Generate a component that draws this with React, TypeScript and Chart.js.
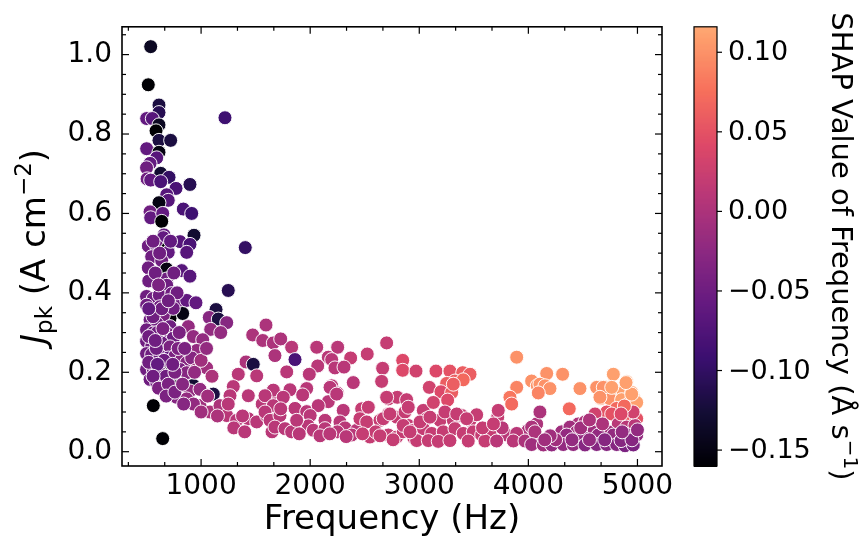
import React, { useEffect, useRef } from "react";
import { Chart, registerables } from "chart.js";
Chart.register(...registerables);

// [frequency (Hz), J_pk (A cm^-2), SHAP value of frequency]
const lowFreqPoints: number[][] = [
  [538, 1.02, -0.14], [516, 0.924, -0.16], [614, 0.873, -0.12], [614, 0.854, -0.11],
  [501, 0.839, -0.06], [553, 0.839, -0.07], [614, 0.823, -0.14], [587, 0.808, -0.16],
  [614, 0.784, -0.12], [721, 0.784, -0.12], [501, 0.763, -0.06], [614, 0.754, -0.15],
  [593, 0.74, -0.07], [532, 0.726, -0.06], [500, 0.715, -0.05], [630, 0.701, -0.13],
  [706, 0.691, -0.1], [505, 0.687, -0.05], [538, 0.684, -0.06], [630, 0.68, -0.08],
  [898, 0.673, -0.11], [770, 0.663, -0.08], [685, 0.647, -0.07], [699, 0.633, -0.07],
  [614, 0.627, -0.15], [837, 0.611, -0.08], [914, 0.6, -0.09], [532, 0.604, -0.05],
  [538, 0.589, -0.06], [648, 0.6, -0.06], [639, 0.58, -0.16], [935, 0.545, -0.13],
  [660, 0.546, -0.06], [1219, 0.841, -0.09],
  [654, 0.539, -0.06], [807, 0.529, -0.07], [898, 0.522, -0.08], [516, 0.518, -0.05],
  [593, 0.518, -0.05], [694, 0.512, -0.16], [1405, 0.514, -0.1], [868, 0.502, -0.07],
  [699, 0.502, -0.06], [547, 0.491, -0.05], [639, 0.481, -0.05], [516, 0.463, -0.05],
  [685, 0.46, -0.15], [822, 0.456, -0.07], [898, 0.442, -0.07], [562, 0.433, -0.16],
  [685, 0.435, -0.05], [685, 0.419, -0.05], [1249, 0.406, -0.11], [500, 0.391, -0.05],
  [562, 0.386, -0.05], [617, 0.394, -0.05], [731, 0.398, -0.05], [822, 0.375, -0.05],
  [868, 0.381, -0.06], [953, 0.375, -0.06], [1137, 0.358, -0.12], [831, 0.348, -0.15],
  [715, 0.336, -0.16], [1075, 0.338, -0.03], [1158, 0.334, -0.12], [1235, 0.325, -0.03],
  [501, 0.369, -0.05], [547, 0.356, -0.05], [532, 0.332, -0.05], [623, 0.365, -0.05],
  [654, 0.344, -0.04], [593, 0.323, -0.05], [715, 0.315, -0.05], [745, 0.361, -0.05],
  [883, 0.315, -0.02], [1088, 0.308, -0.02], [1595, 0.319, 0.0], [500, 0.307, -0.05],
  [562, 0.299, -0.05], [685, 0.299, -0.04], [745, 0.286, -0.05], [929, 0.29, -0.02],
  [1015, 0.282, -0.02], [1473, 0.294, 0.0], [1565, 0.28, 0.0], [500, 0.278, -0.05],
  [547, 0.265, -0.05], [639, 0.274, -0.05], [715, 0.264, -0.04], [960, 0.255, -0.02],
  [500, 0.247, -0.05], [547, 0.245, -0.05], [623, 0.241, -0.05], [699, 0.236, -0.06],
  [761, 0.241, -0.04], [822, 0.232, -0.03], [868, 0.224, -0.03], [914, 0.236, -0.03],
  [699, 0.216, -0.16], [500, 0.207, -0.05], [562, 0.207, -0.05], [639, 0.195, -0.05],
  [731, 0.191, -0.04], [807, 0.207, -0.04], [868, 0.199, -0.03], [953, 0.206, -0.01],
  [1051, 0.211, -0.01], [1412, 0.226, 0.0], [1478, 0.22, -0.12], [1341, 0.195, 0.01],
  [1510, 0.191, 0.01], [532, 0.182, -0.05], [593, 0.174, -0.05], [669, 0.17, -0.04],
  [745, 0.178, -0.04], [929, 0.167, -0.13], [782, 0.164, -0.15], [639, 0.157, -0.04],
  [715, 0.153, -0.04], [898, 0.153, -0.02], [990, 0.157, -0.02], [1112, 0.145, -0.12],
  [1295, 0.164, 0.01], [1265, 0.141, 0.01], [1433, 0.141, 0.01], [776, 0.137, -0.03],
  [868, 0.133, -0.02], [990, 0.116, -0.01], [1082, 0.1, 0.0], [1173, 0.116, 0.0],
  [562, 0.116, -0.16], [1235, 0.091, 0.01], [1326, 0.079, 0.01], [1433, 0.083, 0.01],
  [1510, 0.075, 0.01], [1601, 0.091, 0.01], [1249, 0.12, 0.01], [648, 0.033, -0.16],
  [520, 0.43, -0.05], [580, 0.45, -0.05], [610, 0.42, -0.04], [560, 0.34, -0.05],
  [600, 0.3, -0.05], [650, 0.31, -0.04], [520, 0.29, -0.05], [590, 0.26, -0.05],
  [660, 0.23, -0.05], [520, 0.225, -0.05], [600, 0.22, -0.06], [680, 0.19, -0.05],
  [560, 0.19, -0.05], [610, 0.16, -0.04], [700, 0.17, -0.04], [760, 0.2, -0.04],
  [790, 0.26, -0.04], [800, 0.3, -0.04], [620, 0.5, -0.05], [560, 0.53, -0.05],
  [750, 0.45, -0.05], [720, 0.53, -0.06], [780, 0.4, -0.05], [640, 0.36, -0.05],
  [700, 0.38, -0.05], [520, 0.36, -0.06], [580, 0.28, -0.05], [740, 0.22, -0.05],
  [680, 0.14, -0.04], [760, 0.15, -0.04], [830, 0.17, -0.03], [850, 0.26, -0.04],
  [940, 0.2, -0.02], [1000, 0.23, -0.01], [1050, 0.26, -0.02], [1100, 0.19, 0.0],
  [1180, 0.3, -0.02], [1060, 0.14, -0.01], [930, 0.12, -0.02], [840, 0.12, -0.03],
  [1150, 0.09, 0.0], [1000, 0.1, -0.01], [1300, 0.06, 0.01], [1380, 0.09, 0.01],
  [1400, 0.05, 0.01], [1560, 0.12, 0.01], [1650, 0.05, 0.01], [1700, 0.14, 0.01],
];

const midFreqPoints: number[][] = [
  [1662, 0.274, 0.0], [1730, 0.284, 0.0], [1830, 0.263, 0.01], [1677, 0.242, 0.0],
  [1861, 0.232, -0.08], [2060, 0.263, 0.01], [2252, 0.263, 0.01], [2166, 0.238, 0.01],
  [2197, 0.232, 0.01], [2371, 0.236, 0.02], [2523, 0.246, 0.02], [2701, 0.274, 0.02],
  [2069, 0.216, 0.01], [2227, 0.211, 0.01], [2310, 0.213, 0.01], [2664, 0.21, 0.02],
  [2848, 0.23, 0.04], [2848, 0.205, 0.04], [1785, 0.201, 0.01], [1992, 0.195, 0.01],
  [2395, 0.174, 0.01], [2655, 0.177, 0.02], [1662, 0.155, 0.01], [1586, 0.141, 0.01],
  [1815, 0.156, 0.01], [1968, 0.159, 0.01], [1931, 0.143, 0.01], [1753, 0.137, 0.01],
  [2197, 0.166, 0.01], [2249, 0.148, 0.01], [2166, 0.126, 0.01], [1662, 0.116, 0.01],
  [1861, 0.109, 0.01], [1968, 0.101, 0.01], [2074, 0.116, 0.01], [2303, 0.104, 0.01],
  [2472, 0.108, 0.02], [2716, 0.133, 0.02], [2798, 0.137, 0.02], [2884, 0.131, 0.02],
  [1586, 0.1, 0.01], [1632, 0.079, 0.01], [1723, 0.091, 0.01], [1677, 0.062, 0.01],
  [1769, 0.058, 0.01], [1830, 0.05, 0.01], [2000, 0.091, 0.01], [1983, 0.065, 0.01],
  [2029, 0.054, 0.01], [2136, 0.079, 0.01], [2136, 0.058, 0.01], [2273, 0.075, 0.01],
  [2319, 0.06, 0.01], [2426, 0.054, 0.01], [2456, 0.083, 0.02], [2518, 0.075, 0.02],
  [2548, 0.037, 0.02], [2380, 0.042, 0.01], [2249, 0.05, 0.01], [2640, 0.079, 0.02],
  [2716, 0.095, 0.02], [2793, 0.087, 0.02], [2869, 0.1, 0.02], [2716, 0.042, 0.02],
  [2793, 0.037, 0.02], [2853, 0.05, 0.02], [1730, 0.108, 0.01], [1876, 0.079, 0.01],
  [2182, 0.162, 0.01], [2243, 0.145, 0.01], [2701, 0.137, 0.02], [2533, 0.112, 0.02],
  [2670, 0.083, 0.02], [2731, 0.095, 0.02], [2600, 0.05, 0.02], [2900, 0.066, 0.02],
  [1900, 0.045, 0.01], [2090, 0.04, 0.01], [2180, 0.045, 0.01], [2330, 0.038, 0.01],
  [2480, 0.045, 0.02], [2640, 0.04, 0.02], [2760, 0.03, 0.02], [2950, 0.035, 0.02],
];

const highFreqPoints: number[][] = [
  [2970, 0.203, 0.03], [3153, 0.203, 0.04], [3281, 0.203, 0.05], [3398, 0.199, 0.06],
  [3465, 0.195, 0.06], [3327, 0.178, 0.06], [3251, 0.172, 0.06], [3403, 0.181, 0.07],
  [3092, 0.162, 0.03], [3199, 0.151, 0.04], [3297, 0.149, 0.06], [3312, 0.17, 0.06],
  [3893, 0.238, 0.1], [3893, 0.162, 0.09], [4030, 0.178, 0.1], [4082, 0.166, 0.1],
  [3831, 0.137, 0.08], [3847, 0.12, 0.07], [2899, 0.112, 0.02], [3037, 0.104, 0.02],
  [3129, 0.124, 0.03], [3260, 0.13, 0.04], [3068, 0.083, 0.02], [3190, 0.079, 0.02],
  [3312, 0.079, 0.02], [3389, 0.091, 0.02], [3465, 0.079, 0.02], [3526, 0.093, 0.02],
  [3719, 0.087, 0.02], [3724, 0.104, 0.02], [3999, 0.054, 0.0], [4076, 0.07, 0.0],
  [2853, 0.066, 0.02], [2945, 0.054, 0.02], [3037, 0.058, 0.02], [3114, 0.046, 0.02],
  [3220, 0.05, 0.02], [3327, 0.058, 0.02], [3403, 0.046, 0.02], [3495, 0.05, 0.02],
  [3572, 0.042, 0.02], [3648, 0.046, 0.02], [3801, 0.042, 0.01], [3893, 0.046, 0.01],
  [2976, 0.028, 0.02], [3083, 0.028, 0.02], [3174, 0.026, 0.02], [3281, 0.028, 0.02],
  [3449, 0.027, 0.02], [3602, 0.027, 0.02], [3709, 0.027, 0.01], [3862, 0.027, 0.01],
  [3969, 0.027, 0.0], [4076, 0.03, 0.0], [3235, 0.1, 0.02], [3343, 0.095, 0.02],
  [3434, 0.083, 0.02], [3007, 0.075, 0.02], [3098, 0.087, 0.02], [2915, 0.05, 0.02],
  [3580, 0.06, 0.02], [3760, 0.06, 0.01], [3680, 0.07, 0.02],
  [4168, 0.197, 0.1], [4314, 0.195, 0.1], [4106, 0.17, 0.1], [4152, 0.166, 0.1],
  [4198, 0.159, 0.1], [4091, 0.148, 0.09], [4473, 0.159, 0.1], [4656, 0.162, 0.1],
  [4718, 0.162, 0.11], [4779, 0.195, 0.11], [4901, 0.176, 0.11], [4794, 0.153, 0.11],
  [4870, 0.149, 0.11], [4947, 0.149, 0.11], [4962, 0.137, 0.11], [4662, 0.134, 0.1],
  [4748, 0.133, 0.1], [4855, 0.131, 0.11], [4931, 0.124, 0.11], [4993, 0.124, 0.11],
  [4626, 0.162, 0.1], [4687, 0.162, 0.1], [4764, 0.162, 0.11], [4656, 0.137, 0.1],
  [4947, 0.145, 0.11], [4895, 0.174, 0.11],
  [4375, 0.108, 0.07], [4106, 0.1, 0.0], [4809, 0.109, 0.07], [4718, 0.1, 0.05],
  [4764, 0.095, 0.05], [4611, 0.095, 0.03], [4916, 0.087, 0.06], [4993, 0.083, 0.05],
  [4458, 0.07, 0.0], [4519, 0.075, 0.0], [4641, 0.066, 0.0], [4824, 0.07, 0.01],
  [4901, 0.062, 0.01], [4977, 0.066, 0.01], [4030, 0.062, 0.0], [4060, 0.05, 0.0],
  [4305, 0.05, -0.01], [4381, 0.062, -0.01], [4442, 0.05, -0.01], [4534, 0.054, -0.01],
  [4595, 0.05, -0.01], [4733, 0.05, -0.01], [4351, 0.042, -0.02], [4488, 0.042, -0.02],
  [4641, 0.042, -0.02], [4779, 0.042, -0.02], [4916, 0.042, -0.02], [4993, 0.042, -0.02],
  [4030, 0.018, -0.01], [4137, 0.017, -0.01], [4214, 0.017, -0.02], [4320, 0.018, -0.02],
  [4412, 0.018, -0.02], [4519, 0.017, -0.03], [4626, 0.018, -0.03], [4718, 0.018, -0.03],
  [4809, 0.018, -0.03], [4886, 0.015, -0.04], [4962, 0.017, -0.04],
  [4400, 0.03, -0.02], [4560, 0.03, -0.02], [4700, 0.03, -0.03], [4850, 0.028, -0.03],
  [4950, 0.03, -0.03], [4250, 0.03, -0.01], [4480, 0.06, -0.01], [4680, 0.07, 0.0],
  [4860, 0.05, -0.02], [5000, 0.055, -0.02], [4960, 0.1, 0.03], [4880, 0.115, 0.07],
  [4850, 0.095, 0.04], [4560, 0.08, 0.0], [4200, 0.04, -0.01], [4150, 0.03, -0.01],
];

const xTickValues = [1000, 2000, 3000, 4000, 5000];
const yTickValues = [0.0, 0.2, 0.4, 0.6, 0.8, 1.0];
const cbTickValues = [0.1, 0.05, 0.0, -0.05, -0.1, -0.15];
const cbTickLabels = ["0.10", "0.05", "0.00", "\u22120.05", "\u22120.10", "\u22120.15"];

const X_MIN = 275, X_MAX = 5225;
const Y_MIN = -0.036, Y_MAX = 1.07;
const CB_MIN = -0.16, CB_MAX = 0.116;
const CMAP_TOP = 0.82;
const FONT = "'DejaVu Sans', sans-serif";

const MAGMA = [
  [0, 0, 4], [20, 14, 54], [59, 15, 112], [100, 26, 128], [140, 41, 129],
  [183, 55, 121], [222, 73, 104], [247, 112, 92], [254, 159, 109], [254, 207, 146], [252, 253, 191],
];
function magma(t: number) {
  t = Math.max(0, Math.min(1, t));
  const p = t * 10;
  const i = Math.min(9, Math.floor(p));
  const f = p - i;
  const a = MAGMA[i], b = MAGMA[i + 1];
  const c = a.map((v, k) => Math.round(v + (b[k] - v) * f));
  return `rgb(${c[0]},${c[1]},${c[2]})`;
}
const shapColor = (v: number) => magma(((v - CB_MIN) / (CB_MAX - CB_MIN)) * CMAP_TOP);

function drawRich(ctx: CanvasRenderingContext2D, parts: { t: string; font: string; dy: number }[], cx: number, cy: number, angle: number) {
  ctx.save();
  ctx.translate(cx, cy);
  ctx.rotate(angle);
  const widths = parts.map((p) => { ctx.font = p.font; return ctx.measureText(p.t).width; });
  const total = widths.reduce((s, w) => s + w, 0);
  let xx = -total / 2;
  ctx.textBaseline = "alphabetic";
  ctx.textAlign = "left";
  ctx.fillStyle = "#000";
  parts.forEach((p, i) => { ctx.font = p.font; ctx.fillText(p.t, xx, p.dy); xx += widths[i]; });
  ctx.restore();
}

const framePlugin = {
  id: "frame",
  afterDraw(chart: any) {
    const { ctx, chartArea: ca, scales } = chart;
    const x = scales.x, y = scales.y;
    ctx.save();
    ctx.strokeStyle = "#000";
    ctx.lineWidth = 1.2;
    const line = (x1: number, y1: number, x2: number, y2: number) => {
      ctx.beginPath(); ctx.moveTo(x1, y1); ctx.lineTo(x2, y2); ctx.stroke();
    };
    for (let k = 1; k <= 15; k++) {
      const v = (k * 1000) / 3;
      const px = x.getPixelForValue(v);
      const len = k % 3 === 0 ? 7 : 4;
      line(px, ca.bottom, px, ca.bottom - len);
      line(px, ca.top, px, ca.top + len);
    }
    for (let k = 0; k <= 21; k++) {
      const v = k * 0.05;
      const py = y.getPixelForValue(v);
      const len = k % 4 === 0 ? 7 : 4;
      line(ca.left, py, ca.left + len, py);
      line(ca.right, py, ca.right - len, py);
    }
    ctx.lineWidth = 1.6;
    ctx.strokeRect(ca.left, ca.top, ca.right - ca.left, ca.bottom - ca.top);

    // colorbar
    const cbL = 694, cbR = 717, cbT = ca.top, cbB = ca.bottom;
    for (let py = cbT; py < cbB; py += 1) {
      const v = CB_MAX - ((py + 0.5 - cbT) / (cbB - cbT)) * (CB_MAX - CB_MIN);
      ctx.fillStyle = shapColor(v);
      ctx.fillRect(cbL, py, cbR - cbL, 1.2);
    }
    ctx.lineWidth = 1.2;
    ctx.strokeRect(cbL, cbT, cbR - cbL, cbB - cbT);
    ctx.font = `27px ${FONT}`;
    ctx.fillStyle = "#000";
    ctx.textAlign = "left";
    ctx.textBaseline = "middle";
    cbTickValues.forEach((v, i) => {
      const py = cbT + ((CB_MAX - v) / (CB_MAX - CB_MIN)) * (cbB - cbT);
      line(cbR, py, cbR + 5, py);
      ctx.fillText(cbTickLabels[i], cbR + 11, py + 1);
    });

    // axis titles
    const big = `34px ${FONT}`;
    const small = `23px ${FONT}`;
    drawRich(ctx, [{ t: "Frequency (Hz)", font: big, dy: 0 }], (ca.left + ca.right) / 2, 529, 0);
    const midY = (ca.top + ca.bottom) / 2;
    drawRich(ctx, [
      { t: "J", font: `italic 34px ${FONT}`, dy: 0 },
      { t: "pk", font: small, dy: 7 },
      { t: " (A cm", font: big, dy: 0 },
      { t: "\u22122", font: small, dy: -14 },
      { t: ")", font: big, dy: 0 },
    ], 45, midY, -Math.PI / 2);
    const cbBig = `29px ${FONT}`;
    const cbSmall = `20px ${FONT}`;
    drawRich(ctx, [
      { t: "SHAP Value of Frequency (\u00C5 s", font: cbBig, dy: 0 },
      { t: "\u22121", font: cbSmall, dy: -12 },
      { t: ")", font: cbBig, dy: 0 },
    ], 832, midY, Math.PI / 2);
    ctx.restore();
  },
};

export default function App() {
  const ref = useRef<HTMLCanvasElement | null>(null);
  useEffect(() => {
    if (!ref.current) return;
    const all = [...lowFreqPoints, ...midFreqPoints, ...highFreqPoints];
    const chart = new Chart(ref.current, {
      type: "scatter",
      data: {
        datasets: [
          {
            data: all.map((p) => ({ x: p[0], y: p[1] })),
            backgroundColor: all.map((p) => shapColor(p[2])),
            borderColor: "rgba(255,255,255,0.95)",
            borderWidth: 1,
            pointRadius: 7,
            pointHoverRadius: 7,
          },
        ],
      },
      options: {
        animation: false,
        responsive: false,
        events: [],
        layout: { padding: { left: 0, top: 19, right: 203, bottom: 0 } },
        plugins: { legend: { display: false }, tooltip: { enabled: false } },
        scales: {
          x: {
            type: "linear",
            min: X_MIN,
            max: X_MAX,
            afterBuildTicks: (s: any) => { s.ticks = xTickValues.map((v) => ({ value: v })); },
            afterFit: (s: any) => { s.height = 75; },
            ticks: { font: { family: FONT, size: 28 }, color: "#000", padding: 4, maxRotation: 0, autoSkip: false, callback: (v: any) => String(v) },
            grid: { display: false, drawTicks: false },
            border: { display: false },
          },
          y: {
            type: "linear",
            min: Y_MIN,
            max: Y_MAX,
            afterBuildTicks: (s: any) => { s.ticks = yTickValues.map((v) => ({ value: v })); },
            afterFit: (s: any) => { s.width = 122; },
            ticks: { font: { family: FONT, size: 28 }, color: "#000", padding: 10, autoSkip: false, callback: (v: any) => Number(v).toFixed(1) },
            grid: { display: false, drawTicks: false },
            border: { display: false },
          },
        },
      },
      plugins: [framePlugin],
    });
    return () => chart.destroy();
  }, []);
  return (
    <div style={{ position: "absolute", left: 0, top: 0, width: 865, height: 541, background: "#fff" }}>
      <canvas ref={ref} width={865} height={541} style={{ display: "block" }} />
    </div>
  );
}
